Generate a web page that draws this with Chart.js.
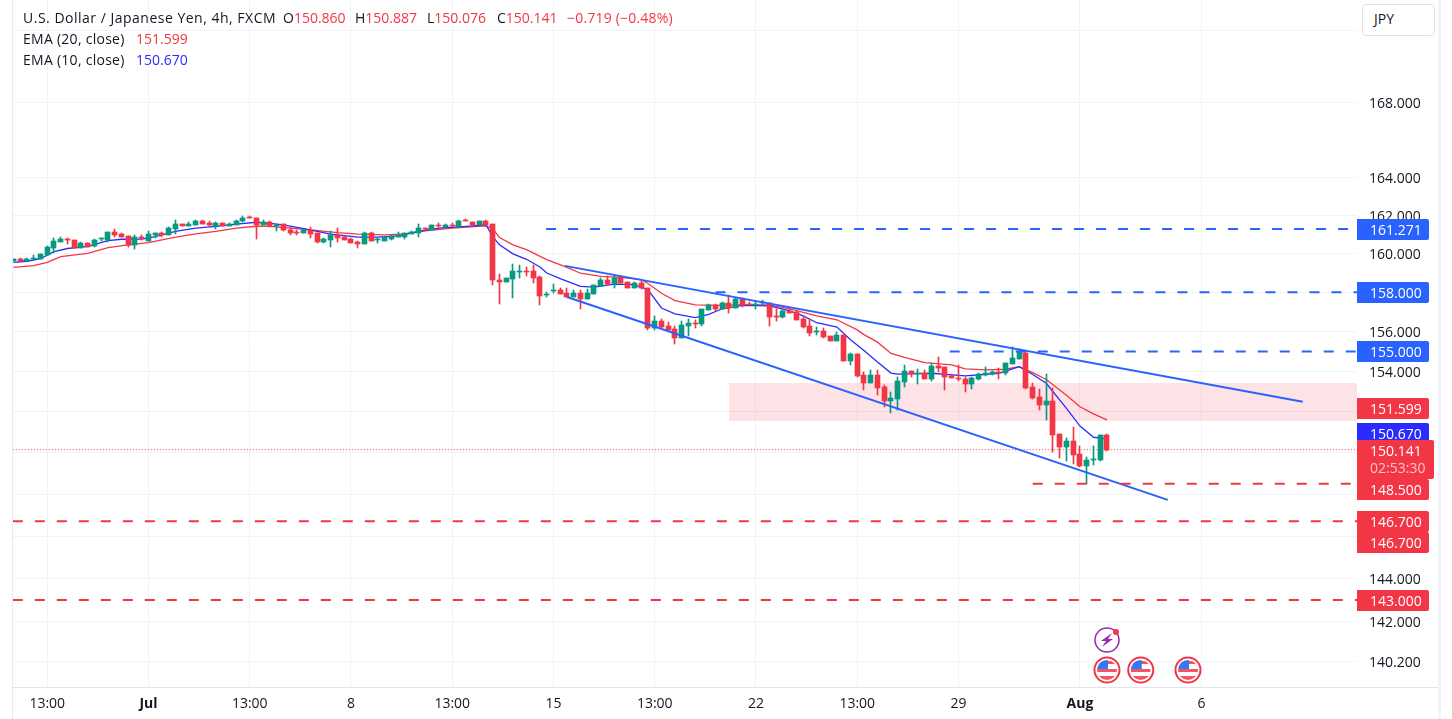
<!DOCTYPE html>
<html>
<head>
<meta charset="utf-8">
<title>USD/JPY 4h</title>
<script src="https://cdn.jsdelivr.net/npm/chart.js@4"></script>
<style>
    html, body { margin: 0; padding: 0; background: #fff; overflow: hidden; }
    #wrap { position: relative; width: 1452px; height: 719px; font: 14px "Open Sans", sans-serif; color: #131722; }
    #wrap canvas { position: absolute; left: 0; top: 0; }
    .t { position: absolute; white-space: nowrap; line-height: 20px; }
    .r { color: #F23645; }
    .b { color: #2B2BFF; }
    #btn { position: absolute; left: 1362px; top: 4px; width: 71px; height: 30px; border: 1px solid #e0e3eb; border-radius: 4px; background: #fff; line-height: 28px; text-indent: 11px; }
    .edge { position: absolute; top: 0; height: 719px; background: #f0f3fa; }
    #foot { position: absolute; left: 1357px; top: 687px; width: 81px; height: 1px; background: #e0e3eb; }
</style>
</head>
<body>
<div id="wrap">
    <canvas id="chart" width="1452" height="719"></canvas>
    <div class="edge" style="left:12px;width:1px;background:#e6e9f2"></div>
    <div class="edge" style="left:1438px;width:3px"></div>
    <div id="foot"></div>
    <div class="t" style="left:23px;top:8px;letter-spacing:0.5px">U.S. Dollar / Japanese Yen, 4h, FXCM</div>
    <div class="t" style="left:283px;top:8px">O<span class="r">150.860</span></div>
    <div class="t" style="left:355px;top:8px">H<span class="r">150.887</span></div>
    <div class="t" style="left:427px;top:8px">L<span class="r">150.076</span></div>
    <div class="t" style="left:497px;top:8px">C<span class="r">150.141</span></div>
    <div class="t r" style="left:567px;top:8px;letter-spacing:0.2px">−0.719 (−0.48%)</div>
    <div class="t" style="left:23px;top:29px;letter-spacing:0.27px">EMA (20, close)</div>
    <div class="t r" style="left:136px;top:29px">151.599</div>
    <div class="t" style="left:23px;top:50px;letter-spacing:0.27px">EMA (10, close)</div>
    <div class="t b" style="left:136px;top:50px">150.670</div>
    <div id="btn">JPY</div>
</div>
<script>
const opens = [
    159.63,159.72,159.63,159.73,159.72,159.93,160.31,160.62,160.78,160.71,
    160.31,160.55,160.38,160.73,160.71,161.13,161.02,160.90,160.45,160.87,
    160.67,160.97,161.06,160.97,161.30,161.55,161.41,161.49,161.72,161.60,
    161.41,161.60,161.41,161.51,161.67,161.86,161.83,161.51,161.65,161.41,
    161.53,161.23,161.13,161.09,161.23,161.09,160.61,160.71,160.97,160.87,
    160.76,160.61,160.50,161.08,160.69,160.66,160.74,160.87,160.87,161.02,
    161.06,161.34,161.23,161.49,161.39,161.49,161.39,161.72,161.65,161.49,
    161.70,161.54,158.63,158.54,158.70,159.06,159.11,159.11,158.80,157.87,
    158.06,158.13,157.98,157.77,157.98,157.67,157.92,158.34,158.65,158.44,
    158.80,158.54,158.23,158.49,158.23,156.19,156.54,156.29,156.14,155.68,
    156.29,156.44,156.39,157.11,157.36,157.16,157.46,157.21,157.67,157.41,
    157.33,157.46,157.46,156.80,156.75,157.05,157.00,156.65,156.29,155.99,
    156.04,155.79,155.54,155.84,154.53,154.88,153.83,153.43,153.83,153.23,
    152.54,152.64,153.48,154.03,153.88,153.93,153.63,154.28,154.23,153.78,
    153.68,153.63,153.38,153.63,153.83,153.88,153.98,153.93,154.38,154.63,
    154.93,153.23,152.72,152.34,152.53,150.92,150.28,150.58,149.94,149.35,
    149.65,149.65,150.86
];
const highs = [
    159.72,159.77,159.77,159.93,159.98,160.40,160.81,160.87,160.81,160.71,
    160.59,160.55,160.73,160.83,161.13,161.30,161.08,160.92,160.97,160.94,
    161.18,161.06,161.11,161.39,161.77,161.55,161.65,161.76,161.77,161.70,
    161.65,161.60,161.58,161.77,161.98,161.98,161.83,161.76,161.70,161.56,
    161.53,161.39,161.20,161.30,161.37,161.09,160.83,161.18,161.32,160.92,
    160.80,160.66,161.13,161.13,160.83,160.87,160.97,161.13,161.08,161.18,
    161.55,161.34,161.49,161.58,161.55,161.58,161.77,161.81,161.65,161.70,
    161.76,161.54,158.94,158.75,159.47,159.42,159.32,159.42,158.85,158.03,
    158.44,158.23,158.23,158.13,158.13,158.18,158.39,158.75,158.85,158.90,
    158.85,158.54,158.54,158.59,158.23,156.80,156.65,156.49,156.29,156.54,
    156.65,156.60,157.16,157.41,157.41,157.51,157.87,157.72,157.72,157.51,
    157.56,157.62,157.46,157.16,157.16,157.16,157.11,156.80,156.65,156.24,
    156.19,155.79,155.99,155.84,154.93,154.88,153.98,154.08,154.08,153.33,
    152.99,153.73,154.33,154.03,154.11,154.08,154.43,154.73,154.23,153.88,
    154.33,153.73,153.73,153.93,154.23,154.03,154.18,154.43,155.23,155.13,
    155.03,153.43,153.13,153.88,153.18,150.92,150.72,151.26,150.33,149.79,
    150.33,150.87,150.887
];
const lows = [
    159.63,159.59,159.59,159.66,159.72,159.93,160.05,160.62,160.48,160.29,
    160.29,160.34,160.36,160.66,160.62,160.87,160.87,160.34,160.24,160.71,
    160.67,160.83,160.88,160.97,161.01,161.41,161.41,161.46,161.56,161.42,
    161.30,161.41,161.41,161.49,161.63,161.83,160.78,161.49,161.39,161.15,
    161.18,160.97,160.97,161.08,160.83,160.57,160.55,160.36,160.62,160.71,
    160.55,160.26,160.50,160.66,160.52,160.66,160.71,160.87,160.76,160.99,
    160.88,161.22,161.23,161.39,161.34,161.39,161.39,161.67,161.49,161.49,
    161.49,158.35,157.41,158.54,157.72,158.75,158.85,158.49,157.36,157.77,
    157.98,157.92,157.77,157.77,157.16,157.67,157.92,158.34,158.39,158.23,
    158.46,158.23,158.23,158.18,156.09,156.09,156.19,156.03,155.37,155.68,
    155.78,156.19,156.29,157.11,157.05,157.16,156.95,157.21,157.26,157.36,
    157.16,157.36,156.29,156.54,156.70,156.95,156.60,156.19,155.79,155.84,
    155.69,155.54,155.54,154.53,154.33,153.73,153.09,153.43,152.84,152.24,
    151.95,152.09,153.23,153.73,153.38,153.63,153.53,153.98,153.08,153.68,
    153.53,152.97,153.13,153.58,153.78,153.83,153.63,153.83,154.38,154.63,
    153.13,152.62,152.09,151.60,150.04,149.74,149.60,149.45,149.30,148.47,
    149.40,149.60,150.076
];
const closes = [
    159.72,159.61,159.73,159.79,159.98,160.34,160.66,160.76,160.69,160.29,
    160.55,160.34,160.69,160.78,161.13,160.95,160.88,160.45,160.85,160.81,
    161.01,161.06,160.97,161.34,161.55,161.41,161.55,161.70,161.56,161.46,
    161.60,161.41,161.55,161.72,161.86,161.83,161.51,161.65,161.41,161.51,
    161.20,161.08,161.08,161.23,161.02,160.62,160.76,160.97,160.81,160.71,
    160.57,160.48,161.08,160.66,160.73,160.85,160.90,160.95,161.08,161.13,
    161.34,161.29,161.49,161.44,161.49,161.44,161.72,161.67,161.49,161.70,
    161.49,158.61,158.54,158.75,159.11,159.11,159.06,158.75,157.82,157.92,
    158.11,157.92,157.77,157.98,157.67,157.98,158.39,158.65,158.44,158.75,
    158.49,158.23,158.49,158.20,156.19,156.54,156.24,156.07,155.68,156.34,
    156.44,156.39,157.16,157.36,157.16,157.46,157.21,157.67,157.36,157.36,
    157.41,157.51,156.75,156.75,157.05,156.95,156.60,156.24,155.94,156.04,
    155.74,155.54,155.84,154.53,154.88,153.78,153.43,153.83,153.18,152.54,
    152.69,153.53,154.03,153.88,153.93,153.63,154.28,154.18,153.73,153.68,
    153.63,153.38,153.68,153.88,153.93,153.98,153.93,154.43,154.68,155.03,
    153.18,152.67,152.34,152.53,150.87,150.28,150.58,149.89,149.35,149.65,
    149.70,150.87,150.141
];

const ema10Bars = [0,2,4,6,8,11,14,16,19,21,24,27,30,33,36,38,40,43,47,51,54,57,60,63,66,70,71,72,74,76,78,79,81,84,86,89,92,94,96,98,101,103,105,108,112,115,117,119,122,124,126,128,130,131,134,136,141,146,149,151,153,156,158,160,162];
const ema10Values = [159.54,159.60,159.73,160.10,160.26,160.37,160.67,160.74,160.75,160.88,161.15,161.32,161.41,161.53,161.63,161.57,161.49,161.30,161.01,160.85,160.85,160.92,161.15,161.32,161.39,161.49,160.88,160.45,159.98,159.70,159.30,158.99,158.70,158.30,158.27,158.42,158.39,158.13,157.20,156.90,156.71,156.88,157.16,157.33,157.31,157.05,156.80,156.45,156.23,155.59,155.05,154.47,153.92,153.87,153.89,153.91,153.78,153.91,154.24,153.85,153.41,152.17,151.30,150.75,150.67];
const ema20Bars = [0,3,5,7,11,14,17,20,24,27,30,33,36,38,41,44,48,51,55,58,61,65,70,71,72,74,76,79,82,84,87,90,93,94,96,98,101,105,107,112,115,119,122,125,126,128,130,132,135,139,141,144,147,149,151,153,156,158,160,162];
const ema20Values = [159.28,159.37,159.54,159.84,160.01,160.31,160.45,160.57,160.85,161.02,161.15,161.32,161.42,161.41,161.32,161.23,161.09,161.01,160.97,161.02,161.18,161.32,161.44,161.30,160.83,160.45,160.20,159.68,159.28,158.98,158.82,158.77,158.65,158.45,157.95,157.58,157.36,157.33,157.36,157.36,157.16,156.80,156.60,156.09,155.85,155.47,154.90,154.70,154.44,154.33,154.13,154.08,154.11,154.24,153.94,153.60,152.82,152.25,151.90,151.60];

const axisEnd = 199.04;
const upperChannel = [[81.7,159.36],[191,152.49]];
const lowerChannel = [[82,157.76],[171,147.72]];
const zoneBars = [106,axisEnd];
const zoneTop = 153.43;
const zoneBottom = 151.55;
const blueLevels = [[161.271,78.9],[158,104],[155,138.7]];
const redLevels = [[148.5,151],[146.7,-1],[143,-1]];
const lastPrice = 150.141;

const priceTicks = [140.2,142,144,146,148,150,152,154,156,158,160,162,164,168,172];
const timeTickBars = [5,20,35,50,65,80,95,110,125,140,158,176];
const timeTickLabels = ["13:00","Jul","13:00","8","13:00","15","13:00","22","13:00","29","Aug","6"];

const tagValues = [161.271,158,155,151.599,150.67,150.141,148.5,146.7,146.7,143];
const tagTexts = ["161.271","158.000","155.000","151.599","150.670","150.141","148.500","146.700","146.700","143.000"];
const tagColors = ["#2962FF","#2962FF","#2962FF","#F23645","#2B2BFF","#F23645","#F23645","#F23645","#F23645","#F23645"];
const tagShifts = [0.5,0.5,0.5,-11,-5.5,0,5.5,0.5,21.5,0.5];
const countdown = "02:53:30";

const flagBars = [162,167,174];

const GREEN = "#089981";
const RED = "#F23645";
const BLUE = "#2962FF";

const bars = closes.map((c, i) => i);
const candleColors = closes.map((c, i) => c >= opens[i] ? GREEN : RED);

function level(value, from) {
    return [{ x: from < 0 ? -0.1 : from, y: value }, { x: axisEnd, y: value }];
}

function lineSet(data, color, width, order, dash) {
    return {
        type: "line",
        data: data,
        borderColor: color,
        borderWidth: width,
        borderDash: dash || [],
        pointRadius: 0,
        tension: 0,
        order: order
    };
}

const datasets = [
    {
        type: "line",
        data: zoneBars.map(x => ({ x: x, y: zoneTop })),
        borderWidth: 0,
        pointRadius: 0,
        fill: "+1",
        backgroundColor: "rgba(242,54,69,0.14)",
        order: 9
    },
    {
        type: "line",
        data: zoneBars.map(x => ({ x: x, y: zoneBottom })),
        borderWidth: 0,
        pointRadius: 0,
        order: 9
    },
    lineSet(level(lastPrice, -1), RED, 1, 8, [1, 2]),
    lineSet(ema20Bars.map((x, i) => ({ x: x, y: ema20Values[i] })), RED, 1.3, 7),
    lineSet(ema10Bars.map((x, i) => ({ x: x, y: ema10Values[i] })), "#2B2BFF", 1.3, 6),
    {
        type: "bar",
        data: bars.map(i => ({ x: i, y: [lows[i], highs[i]] })),
        backgroundColor: candleColors,
        barThickness: 1,
        grouped: false,
        order: 5
    },
    {
        type: "bar",
        data: bars.map(i => ({ x: i, y: [opens[i], closes[i]] })),
        backgroundColor: candleColors,
        barThickness: 5,
        minBarLength: 1,
        grouped: false,
        order: 4
    },
    lineSet(upperChannel.map(p => ({ x: p[0], y: p[1] })), BLUE, 2, 3),
    lineSet(lowerChannel.map(p => ({ x: p[0], y: p[1] })), BLUE, 2, 3)
];

blueLevels.forEach(l => datasets.push(lineSet(level(l[0], l[1]), BLUE, 2, 2, [10, 12])));
redLevels.forEach(l => datasets.push(lineSet(level(l[0], l[1]), RED, 2, 2, [10, 12])));

// candles look crisp only on whole pixels
const snapBars = {
    id: "snapBars",
    afterDatasetsUpdate(chart) {
        chart.data.datasets.forEach((ds, n) => {
            if (ds.type !== "bar") return;
            chart.getDatasetMeta(n).data.forEach(el => {
                el.x = Math.floor(el.x) + 0.5;
                el.y = Math.round(el.y);
                el.base = Math.round(el.base);
            });
        });
    }
};

function drawFlag(ctx, cx, cy) {
    ctx.save();
    ctx.beginPath();
    ctx.arc(cx, cy, 12.5, 0, Math.PI * 2);
    ctx.fillStyle = "#fff";
    ctx.fill();
    ctx.strokeStyle = RED;
    ctx.lineWidth = 2;
    ctx.stroke();
    ctx.beginPath();
    ctx.arc(cx, cy, 10, 0, Math.PI * 2);
    ctx.clip();
    ctx.fillStyle = "#f7525f";
    ctx.fillRect(cx - 10, cy - 9, 20, 3);
    ctx.fillRect(cx - 10, cy - 1, 20, 3);
    ctx.fillRect(cx - 10, cy + 6, 20, 4);
    ctx.fillStyle = "#3179f5";
    ctx.fillRect(cx - 10, cy - 10, 11, 9);
    ctx.restore();
}

function drawBolt(ctx, cx, cy) {
    ctx.save();
    ctx.beginPath();
    ctx.arc(cx, cy, 12, 0, Math.PI * 2);
    ctx.strokeStyle = "#9C27B0";
    ctx.lineWidth = 1.5;
    ctx.stroke();
    ctx.beginPath();
    ctx.moveTo(cx + 5, cy - 7);
    ctx.lineTo(cx - 6, cy + 1);
    ctx.lineTo(cx - 1, cy + 1);
    ctx.lineTo(cx - 5, cy + 7);
    ctx.lineTo(cx + 6, cy - 1);
    ctx.lineTo(cx + 1, cy - 1);
    ctx.closePath();
    ctx.fillStyle = "#9C27B0";
    ctx.fill();
    ctx.beginPath();
    ctx.arc(cx + 9, cy - 8, 3, 0, Math.PI * 2);
    ctx.fillStyle = RED;
    ctx.fill();
    ctx.restore();
}

// price tags on the axis and the event icons
const overlays = {
    id: "overlays",
    afterDraw(chart) {
        const ctx = chart.ctx;
        const x = chart.scales.x;
        const y = chart.scales.y;
        const left = chart.chartArea.right;

        ctx.save();
        ctx.font = "14px 'Open Sans', sans-serif";
        ctx.textBaseline = "middle";
        tagValues.forEach((v, i) => {
            const cy = y.getPixelForValue(v) + tagShifts[i];
            const isLast = v === lastPrice;
            ctx.fillStyle = tagColors[i];
            ctx.beginPath();
            if (isLast) {
                ctx.roundRect(left, Math.round(cy - 10), 77, 39, [0, 2, 2, 0]);
            } else {
                ctx.roundRect(left, Math.round(cy - 10.5), 72, 21, [0, 2, 2, 0]);
            }
            ctx.fill();
            ctx.fillStyle = "#fff";
            ctx.textAlign = "left";
            ctx.fillText(tagTexts[i], left + 13, isLast ? Math.round(cy - 10) + 12 : Math.round(cy - 10.5) + 12);
            if (isLast) {
                ctx.fillStyle = "rgba(255,255,255,0.7)";
                ctx.fillText(countdown, left + 13, Math.round(cy - 10) + 29);
            }
        });
        ctx.restore();

        drawBolt(ctx, x.getPixelForValue(flagBars[0]), 640);
        flagBars.forEach(b => drawFlag(ctx, x.getPixelForValue(b), 670));
    }
};

new Chart(document.getElementById("chart"), {
    type: "bar",
    data: { datasets: datasets },
    plugins: [snapBars, overlays],
    options: {
        responsive: false,
        animation: false,
        events: [],
        layout: { padding: { left: 13, right: 0, top: 0, bottom: 0 } },
        plugins: {
            legend: { display: false },
            tooltip: { enabled: false }
        },
        scales: {
            x: {
                type: "linear",
                min: -0.074,
                max: axisEnd,
                offset: false,
                afterBuildTicks: s => { s.ticks = timeTickBars.map(v => ({ value: v })); },
                afterFit: s => { s.height = 32; s.paddingLeft = 0; s.paddingRight = 0; },
                grid: { color: "#f0f3fa", offset: false, drawTicks: false },
                border: { color: "#e0e3eb" },
                ticks: {
                    autoSkip: false,
                    maxRotation: 0,
                    padding: 9,
                    color: "#131722",
                    font: ctx => ({
                        family: "Open Sans",
                        size: 14,
                        weight: (ctx.tick && (ctx.tick.value === 20 || ctx.tick.value === 158)) ? "bold" : "normal"
                    }),
                    callback: v => timeTickLabels[timeTickBars.indexOf(v)]
                }
            },
            y: {
                type: "logarithmic",
                position: "right",
                min: 139.03,
                max: 173.7,
                bounds: "data",
                afterBuildTicks: s => { s.ticks = priceTicks.map(v => ({ value: v })); },
                afterFit: s => { s.width = 95; s.paddingTop = 0; s.paddingBottom = 0; },
                grid: { color: "#f0f3fa", drawTicks: false },
                border: { display: false },
                ticks: {
                    autoSkip: false,
                    padding: 12,
                    color: "#131722",
                    // the blank first line nudges the price down to sit on its grid line
                    font: { family: "Open Sans", size: 14, lineHeight: "3px" },
                    callback: v => ["", v.toFixed(3)]
                }
            }
        }
    }
});
</script>
</body>
</html>
